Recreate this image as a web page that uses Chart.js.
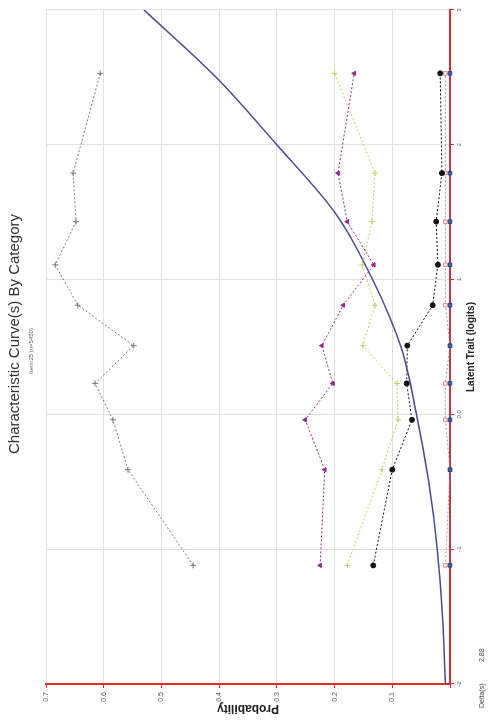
<!DOCTYPE html>
<html>
<head>
<meta charset="utf-8">
<script src="https://cdn.jsdelivr.net/npm/chart.js@4.4.0/dist/chart.umd.min.js"></script>
<style>
  html, body { margin: 0; padding: 0; background: #fff; overflow: hidden; }
  /* chart is drawn upright and then turned a quarter turn to the left */
  #frame { position: absolute; left: 0; top: 720px; width: 720px; height: 492px;
           transform-origin: 0 0; transform: rotate(-90deg); }
</style>
</head>
<body>
<div id="frame"><canvas id="c" width="720" height="492"></canvas></div>
<script>
const TITLE = 'Characteristic Curve(s) By Category';
const SUBTITLE = 'Item:25 (n=5450)';
const X_TITLE = 'Latent Trait (logits)';
const Y_TITLE = 'Probability';
const DELTA_LABEL = 'Delta(s)';
const DELTA_VALUE = '2.88';

// class interval locations (logits)
const locations = [-1.12, -0.41, -0.04, 0.23, 0.51, 0.81, 1.11, 1.43, 1.79, 2.53];
// observed proportions per category
const cat0 = [0.445, 0.558, 0.584, 0.615, 0.548, 0.645, 0.684, 0.648, 0.653, 0.606];
const cat1 = [0.225, 0.217, 0.251, 0.203, 0.222, 0.185, 0.132, 0.178, 0.194, 0.166];
const cat2 = [0.178, 0.118, 0.090, 0.092, 0.151, 0.130, 0.152, 0.135, 0.130, 0.200];
const cat3 = [0.133, 0.100, 0.066, 0.075, 0.074, 0.030, 0.021, 0.024, 0.014, 0.017];
const cat4 = [0.008, 0.000, 0.008, 0.008, 0.000, 0.008, 0.008, 0.008, 0.008, 0.008];
const cat5 = [0, 0, 0, 0, 0, 0, 0, 0, 0, 0];

// expected curve
const curveX = [-2, -1.5, -1, -0.5, 0, 0.5, 1, 1.5, 2, 2.5, 3];
const curveY = [0.008, 0.013, 0.022, 0.037, 0.058, 0.085, 0.134, 0.200, 0.300, 0.405, 0.530];

const xTicks = [-2, -1, 0, 1, 2, 3];
const yTicks = [0, 0.1, 0.2, 0.3, 0.4, 0.5, 0.6, 0.7];

const FONT = '"Liberation Sans", Arial, sans-serif';
const RED = '#e02a2a';

function pts(vals) {
  return vals.map((v, i) => ({ x: locations[i], y: v }));
}

function obs(data, color, style, extra) {
  return Object.assign({
    data: pts(data),
    borderColor: color,
    backgroundColor: color,
    borderWidth: 1,
    borderDash: [2, 2],
    pointStyle: style,
    pointRadius: 2.5,
    pointBorderWidth: 1,
    tension: 0,
    clip: false,
  }, extra || {});
}

// texts that sit outside the axes
const texts = {
  id: 'texts',
  afterDraw(chart) {
    const ctx = chart.ctx;
    const mid = (chart.chartArea.left + chart.chartArea.right) / 2;
    ctx.save();
    ctx.fillStyle = '#333';
    ctx.textAlign = 'center';
    ctx.textBaseline = 'middle';
    ctx.font = '15px ' + FONT;
    ctx.fillText(TITLE, mid + 13, 15);
    ctx.font = '6px ' + FONT;
    ctx.fillStyle = '#666';
    ctx.fillText(SUBTITLE, mid - 4, 31);
    ctx.textAlign = 'left';
    ctx.font = '7px ' + FONT;
    ctx.fillStyle = '#444';
    ctx.fillText(DELTA_LABEL, 12, 482);
    ctx.fillText(DELTA_VALUE, 58, 482);
    ctx.restore();
  }
};

new Chart(document.getElementById('c'), {
  type: 'line',
  data: {
    datasets: [
      {
        data: curveX.map((x, i) => ({ x, y: curveY[i] })),
        borderColor: '#4a4a98',
        borderWidth: 1.5,
        pointRadius: 0,
        cubicInterpolationMode: 'monotone',
      },
      obs(cat0, '#7a7a7a', 'cross', { pointRadius: 3 }),
      obs(cat1, '#8e2a8e', 'triangle'),
      obs(cat2, '#c4ce6a', 'cross', { pointRadius: 3 }),
      obs(cat3, '#111111', 'circle'),
      obs(cat5, '#3c6db0', 'rect', { pointBorderColor: '#24407a' }),
      obs(cat4, '#d48a8a', 'rect', { backgroundColor: '#fff' }),
    ],
  },
  options: {
    responsive: false,
    animation: false,
    layout: { padding: { top: 46, right: 10, left: 0, bottom: 0 } },
    plugins: {
      legend: { display: false },
      title: { display: false },
      tooltip: { enabled: false },
    },
    scales: {
      x: {
        type: 'linear',
        min: -2,
        max: 3,
        afterBuildTicks: s => { s.ticks = xTicks.map(v => ({ value: v })); },
        afterFit: s => { s.height = 42; },
        grid: { color: '#e0e0e0', tickColor: RED, tickLength: 4 },
        border: { color: RED, width: 2 },
        ticks: {
          font: { family: FONT, size: 6 },
          color: '#666',
          padding: 2,
          maxRotation: 0,
          callback: v => v === 0 ? '0.0' : String(v),
        },
        title: {
          display: true,
          text: X_TITLE,
          color: '#222',
          font: { family: FONT, size: 10, weight: 'bold' },
          padding: { top: 0, bottom: 15 },
        },
      },
      y: {
        min: 0,
        max: 0.7,
        afterBuildTicks: s => { s.ticks = yTicks.map(v => ({ value: v })); },
        afterFit: s => { s.width = 36; },
        grid: { color: '#e0e0e0', tickColor: RED, tickLength: 4 },
        border: { color: RED, width: 2 },
        ticks: {
          font: { family: FONT, size: 7 },
          color: '#555',
          padding: 4,
          callback: v => v === 0 ? '' : v.toFixed(1),
        },
        title: {
          display: true,
          text: Y_TITLE,
          color: '#222',
          font: { family: FONT, size: 12, weight: 'bold' },
          padding: { top: 4, bottom: 0 },
        },
      },
    },
  },
  plugins: [texts],
});
</script>
</body>
</html>
